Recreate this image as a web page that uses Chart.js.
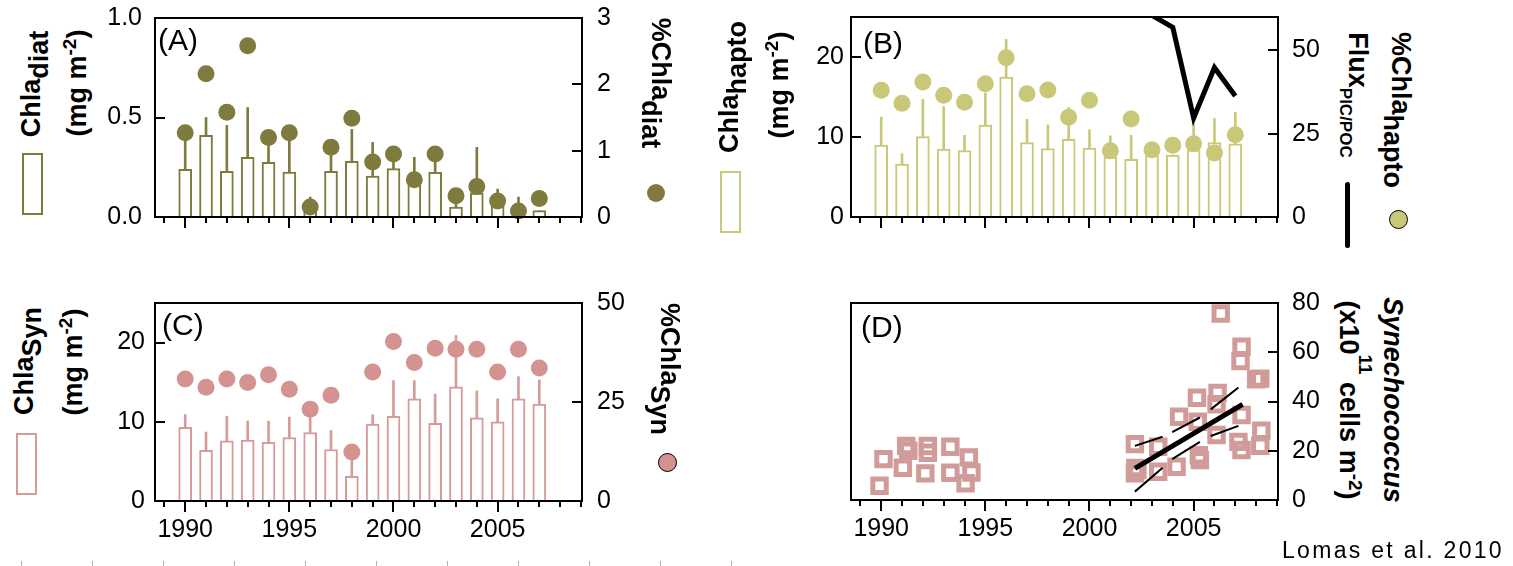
<!DOCTYPE html>
<html>
<head>
<meta charset="utf-8">
<script src="https://cdn.jsdelivr.net/npm/chart.js@4.4.1/dist/chart.umd.min.js"></script>
<style>
  body { margin: 0; background: #fff; }
  #fig { position: relative; width: 1513px; height: 566px; overflow: hidden;
         font-family: "Liberation Sans", Arial, sans-serif; color: #000; }
  #fig canvas { position: absolute; }
  .ttl { position: absolute; white-space: nowrap; font-weight: bold; font-size: 27px; line-height: 27px; z-index: 2; }
  .up { transform: translate(-50%, -50%) rotate(-90deg); }
  .down { transform: translate(-50%, -50%) rotate(90deg); }
  .sb { position: relative; }
  .sp { position: relative; font-size: 19px; }
  .tag { position: absolute; font-size: 30px; line-height: 30px; z-index: 2; }
  .box { position: absolute; box-sizing: border-box; border: 2px solid; background: #fff; }
  .dot { position: absolute; border-radius: 50%; box-sizing: border-box; }
  .ruler { position: absolute; left: 21px; top: 561px; width: 713px; height: 5px;
           background: repeating-linear-gradient(90deg, #b4b4b4 0 1px, transparent 1px 71px); }
  .cite { position: absolute; left: 1282px; top: 539px; font-size: 23px; line-height: 23px; letter-spacing: 2.3px; white-space: nowrap; }
</style>
</head>
<body>
<div id="fig">
  <canvas id="chartA" width="605" height="240" style="left:95px;top:0px"></canvas>
  <canvas id="chartB" width="539" height="240" style="left:791px;top:0px"></canvas>
  <canvas id="chartC" width="605" height="281" style="left:95px;top:285px"></canvas>
  <canvas id="chartD" width="539" height="281" style="left:791px;top:285px"></canvas>

  <div class="tag" style="left:158px;top:25px">(A)</div>
  <div class="tag" style="left:863px;top:28px">(B)</div>
  <div class="tag" style="left:162px;top:310px">(C)</div>
  <div class="tag" style="left:861px;top:312px">(D)</div>

  <!-- panel A titles -->
  <div class="ttl up" style="left:31px;top:84px">Chla<span class="sb" style="top:8px">diat</span></div>
  <div class="ttl up" style="left:78px;top:83px">(mg m<span class="sp" style="top:-10px">-2</span>)</div>
  <div class="ttl down" style="left:660px;top:83px">%Chla<span class="sb" style="top:10px">diat</span></div>
  <div class="box" style="left:22px;top:153px;width:21px;height:62px;border-color:#7f7a3d"></div>
  <div class="dot" style="left:647px;top:184px;width:18px;height:18px;background:#7f7a3d"></div>

  <!-- panel B titles -->
  <div class="ttl up" style="left:729px;top:87px">Chla<span class="sb" style="top:8px">hapto</span></div>
  <div class="ttl up" style="left:780px;top:85px">(mg m<span class="sp" style="top:-10px">-2</span>)</div>
  <div class="ttl down" style="left:1356px;top:95px">Flux<span class="sb" style="top:9px;font-size:17px">PIC/POC</span></div>
  <div class="ttl down" style="left:1400px;top:110px">%Chla<span class="sb" style="top:8px">hapto</span></div>
  <div class="box" style="left:720px;top:171px;width:21px;height:62px;border-color:#c8c878"></div>
  <div style="position:absolute;left:1345px;top:182px;width:5px;height:66px;background:#000;border-radius:2.5px"></div>
  <div class="dot" style="left:1389px;top:210px;width:19px;height:19px;background:#c8c878;border:1px solid #000"></div>

  <!-- panel C titles -->
  <div class="ttl up" style="left:24px;top:361px">Chla<span class="sb" style="top:8px">Syn</span></div>
  <div class="ttl up" style="left:74px;top:362px">(mg m<span class="sp" style="top:-10px">-2</span>)</div>
  <div class="ttl down" style="left:669px;top:369px">%Chla<span class="sb" style="top:10px">Syn</span></div>
  <div class="box" style="left:16px;top:433px;width:21px;height:62px;border-color:#d59b98"></div>
  <div class="dot" style="left:658px;top:453px;width:19px;height:19px;background:#d49390;border:1px solid #000"></div>

  <!-- panel D titles -->
  <div class="ttl down" style="left:1347px;top:400px">(x10<span class="sp" style="top:-19px">11</span> cells m<span class="sp" style="top:-9px">-2</span>)</div>
  <div class="ttl down" style="left:1392px;top:400px;font-style:italic">Synechococcus</div>

  <div class="ruler"></div>
  <div class="cite">Lomas et al. 2010</div>
</div>

<script>
// years of the annual means (panels A-C)
const years = [1990, 1991, 1992, 1993, 1994, 1995, 1996, 1997, 1998, 1999,
               2000, 2001, 2002, 2003, 2004, 2005, 2006, 2007];

// (A) diatom chlorophyll, mg m-2, with upper error, and % of total
const chlaDiat    = [0.24, 0.41, 0.23, 0.30, 0.275, 0.226, 0.03, 0.23, 0.28, 0.206, 0.243, 0.18, 0.225, 0.05, 0.12, 0.07, 0.02, 0.032];
const chlaDiatErr = [0.40, 0.50, 0.46, 0.55, 0.38, 0.40, 0.10, 0.33, 0.44, 0.375, 0.30, 0.30, 0.30, 0.12, 0.35, 0.14, 0.10, 0.032];
const pctDiat     = [1.27, 2.16, 1.58, 2.58, 1.20, 1.27, 0.15, 1.05, 1.49, 0.83, 0.95, 0.56, 0.95, 0.32, 0.46, 0.24, 0.09, 0.28];

// (B) haptophyte chlorophyll, % of total, and PIC/POC flux
const chlaHapto    = [9.0, 6.6, 10.05, 8.5, 8.3, 11.5, 17.5, 9.3, 8.55, 9.7, 8.6, 7.5, 7.2, 7.7, 7.75, 8.4, 9.3, 9.15];
const chlaHaptoErr = [12.5, 7.9, 14.7, 13.8, 10.2, 15.5, 22.2, 12.2, 11.5, 13.7, 10.9, 10.15, 10.2, 8.0, 7.75, 11.6, 12.3, 13.1];
const pctHapto     = [38.0, 34.1, 40.5, 36.5, 34.4, 40.0, 47.8, 37.0, 38.1, 29.9, 35.0, 19.9, 29.4, 20.2, 21.5, 22.0, 19.2, 24.7];
const fluxYears = [2003, 2004, 2005, 2006, 2007];
const fluxPicPoc = [60.5, 56.9, 29.7, 44.8, 36.3];

// (C) Synechococcus chlorophyll and % of total
const chlaSyn    = [9.3, 6.4, 7.6, 7.7, 7.4, 8.0, 8.65, 6.5, 3.1, 9.7, 10.7, 12.9, 9.8, 14.4, 10.5, 10.0, 12.9, 12.25];
const chlaSynErr = [10.9, 8.7, 10.7, 10.1, 10.1, 10.6, 10.8, 8.9, 6.0, 10.9, 15.2, 15.2, 13.5, 20.9, 13.9, 12.9, 15.7, 15.3];
const pctSyn     = [30.8, 28.7, 30.8, 29.9, 31.9, 28.2, 23.2, 26.7, 12.4, 32.6, 40.3, 35.0, 38.6, 38.3, 38.3, 32.6, 38.3, 33.6];

// (D) Synechococcus cell counts, x10^11 cells m-2
const synDates = [1989.92, 1990.11, 1991.04, 1991.2, 1991.3, 1992.12, 1992.24, 1992.24, 1993.32, 1993.32, 1994.21, 1994.05, 1994.33,
                  2002.18, 2002.2, 2002.18, 2002.3, 2003.3, 2003.3, 2004.18, 2004.3, 2005.16, 2005.2, 2005.25, 2005.3,
                  2006.15, 2006.1, 2006.1, 2006.3, 2007.3, 2007.25, 2007.3, 2007.15, 2007.3, 2008.2, 2008.0, 2008.25, 2008.2];
const synCells = [5.8, 16.6, 13.1, 21.9, 20.0, 10.8, 21.9, 19.2, 21.6, 11.1, 17.3, 6.8, 11.2,
                  22.7, 13.0, 10.8, 12.2, 21.6, 11.5, 13.5, 33.8, 41.5, 31.8, 18.2, 16.2,
                  43.5, 38.9, 26.4, 75.7, 62.2, 56.4, 34.5, 23.6, 20.3, 49.3, 49.0, 28.1, 22.0];
// regression and its confidence band (null = gap between dashes)
const fitX = [2002.18, 2007.35];
const fitY = [12.85, 38.8];
const bandX     = [2002.18, 2003.51, 2003.74, 2003.97, 2005.3, 2005.56, 2005.82, 2007.15];
const bandUpper = [22.0, 25.7, null, 27.6, 33.5, null, 36.8, 45.7];
const bandLower = [3.4, 13.1, null, 16.6, 23.6, null, 26.0, 30.1];

// axes
const X_MIN = 1988.55, X_MAX = 2009.05;
const xTickYears = [1990, 1995, 2000, 2005];
const ticksChlaA = [0, 0.5, 1.0];
const ticksPctA  = [0, 1, 2, 3];
const ticksChlaB = [0, 10, 20];
const ticksPctB  = [0, 25, 50];
const ticksChlaC = [0, 10, 20];
const ticksPctC  = [0, 25, 50];
const ticksSynD  = [0, 20, 40, 60, 80];

const OLIVE = '#7f7a3d';
const KHAKI = '#c8c878';
const PINK_BAR = '#d59b98';
const PINK_DOT = '#d49390';
const PINK_SQ = '#d09b98';
const FONT = { family: '"Liberation Sans", Arial, sans-serif', size: 25 };

function fixedTicks(values) {
    return function(axis) {
        axis.ticks = values.map(v => ({ value: v }));
    };
}

// no automatic padding from the tick labels
function noPad(s) {
    s.paddingLeft = 0;
    s.paddingRight = 0;
    s.paddingTop = 0;
    s.paddingBottom = 0;
}

// box frame, outward year ticks, inward value ticks
const frameTicks = {
    id: 'frameTicks',
    afterDraw(chart) {
        const ctx = chart.ctx;
        const a = chart.chartArea;
        const xs = chart.scales.x;
        ctx.save();
        ctx.strokeStyle = '#000';
        ctx.lineWidth = 2;
        ctx.strokeRect(a.left, a.top, a.right - a.left, a.bottom - a.top);
        ctx.beginPath();
        for (let yr = Math.ceil(xs.min); yr <= xs.max; yr++) {
            const px = Math.round(xs.getPixelForValue(yr));
            ctx.moveTo(px, a.bottom);
            ctx.lineTo(px, a.bottom + (yr % 5 === 0 ? 11 : 6));
        }
        ['y', 'y2'].forEach(function(id) {
            const s = chart.scales[id];
            if (!s) return;
            const left = s.position === 'left';
            s.ticks.forEach(function(t) {
                if (t.value <= s.min || t.value >= s.max) return;
                const py = Math.round(s.getPixelForValue(t.value));
                ctx.moveTo(left ? a.left : a.right, py);
                ctx.lineTo(left ? a.left + 10 : a.right - 10, py);
            });
        });
        ctx.stroke();
        ctx.restore();
    }
};

function xScale(showLabels, height) {
    return {
        type: 'linear', min: X_MIN, max: X_MAX, offset: false,
        grid: { display: false, drawTicks: false },
        border: { display: false },
        afterBuildTicks: fixedTicks(xTickYears),
        ticks: { display: showLabels, font: FONT, color: '#000', padding: 14,
                 maxRotation: 0, autoSkip: false, callback: v => String(v) },
        afterFit: s => { s.height = height; noPad(s); }
    };
}

function yScale(pos, min, max, tickVals, fmt, width, pad) {
    return {
        type: 'linear', position: pos, min: min, max: max,
        grid: { display: false, drawTicks: false },
        border: { display: false },
        afterBuildTicks: fixedTicks(tickVals),
        ticks: { font: FONT, color: '#000', padding: pad, callback: fmt },
        afterFit: s => { s.width = width; noPad(s); }
    };
}

function baseOptions(pad, scales) {
    return {
        responsive: false,
        animation: false,
        events: [],
        layout: { autoPadding: false, padding: pad },
        plugins: { legend: { display: false }, tooltip: { enabled: false } },
        scales: scales
    };
}

function barSets(color, bars, errs) {
    return [{
        type: 'bar', yAxisID: 'y', order: 3, grouped: false, barThickness: 13,
        data: years.map((x, i) => ({ x: x, y: bars[i] })),
        backgroundColor: '#fff', borderColor: color, borderWidth: 2
    }, {
        type: 'bar', yAxisID: 'y', order: 2, grouped: false, barThickness: 2,
        data: years.map((x, i) => ({ x: x, y: [bars[i], errs[i]] })),
        backgroundColor: color, borderWidth: 0
    }];
}

function dotSet(color, vals) {
    return {
        type: 'scatter', yAxisID: 'y2', order: 1, clip: false,
        data: years.map((x, i) => ({ x: x, y: vals[i] })),
        pointRadius: 8.5, backgroundColor: color, borderWidth: 0
    };
}

const fmt1 = v => v.toFixed(1);
const fmt0 = v => String(v);

// (A)
new Chart(document.getElementById('chartA'), {
    type: 'bar',
    data: { datasets: [...barSets(OLIVE, chlaDiat, chlaDiatErr), dotSet(OLIVE, pctDiat)] },
    options: baseOptions({ top: 18, left: 0, right: 0, bottom: 0 }, {
        x: xScale(false, 23),
        y: yScale('left', 0, 1, ticksChlaA, fmt1, 60, 13),
        y2: yScale('right', 0, 3, ticksPctA, fmt0, 118, 15)
    }),
    plugins: [frameTicks]
});

// (B)
new Chart(document.getElementById('chartB'), {
    type: 'bar',
    data: { datasets: [
        ...barSets(KHAKI, chlaHapto, chlaHaptoErr),
        dotSet(KHAKI, pctHapto),
        {
            type: 'line', yAxisID: 'y2', order: 0,
            data: fluxYears.map((x, i) => ({ x: x, y: fluxPicPoc[i] })),
            borderColor: '#000', borderWidth: 5, pointRadius: 0, fill: false
        }
    ] },
    options: baseOptions({ top: 17, left: 0, right: 0, bottom: 0 }, {
        x: xScale(false, 23),
        y: yScale('left', 0, 25, ticksChlaB, fmt0, 60, 7),
        y2: yScale('right', 0, 60, ticksPctB, fmt0, 52, 14)
    }),
    plugins: [frameTicks]
});

// (C)
new Chart(document.getElementById('chartC'), {
    type: 'bar',
    data: { datasets: [...barSets(PINK_BAR, chlaSyn, chlaSynErr), dotSet(PINK_DOT, pctSyn)] },
    options: baseOptions({ top: 18, left: 0, right: 0, bottom: 0 }, {
        x: xScale(true, 65),
        y: yScale('left', 0, 25, ticksChlaC, fmt0, 60, 10),
        y2: yScale('right', 0, 50, ticksPctC, fmt0, 118, 15)
    }),
    plugins: [frameTicks]
});

// (D)
new Chart(document.getElementById('chartD'), {
    type: 'scatter',
    data: { datasets: [{
        order: 3, clip: false,
        data: synDates.map((x, i) => ({ x: x, y: synCells[i] })),
        pointStyle: 'rect', pointRadius: 9.5, borderWidth: 5,
        borderColor: PINK_SQ, backgroundColor: 'rgba(0,0,0,0)'
    }, {
        type: 'line', order: 2,
        data: bandX.map((x, i) => ({ x: x, y: bandUpper[i] })),
        borderColor: '#000', borderWidth: 2, pointRadius: 0, spanGaps: false, fill: false
    }, {
        type: 'line', order: 2,
        data: bandX.map((x, i) => ({ x: x, y: bandLower[i] })),
        borderColor: '#000', borderWidth: 2, pointRadius: 0, spanGaps: false, fill: false
    }, {
        type: 'line', order: 1,
        data: fitX.map((x, i) => ({ x: x, y: fitY[i] })),
        borderColor: '#000', borderWidth: 5, pointRadius: 0, fill: false
    }] },
    options: baseOptions({ top: 18, left: 60, right: 0, bottom: 0 }, {
        x: xScale(true, 66),
        y: yScale('right', 0, 80, ticksSynD, fmt0, 52, 14)
    }),
    plugins: [frameTicks]
});
</script>
</body>
</html>
